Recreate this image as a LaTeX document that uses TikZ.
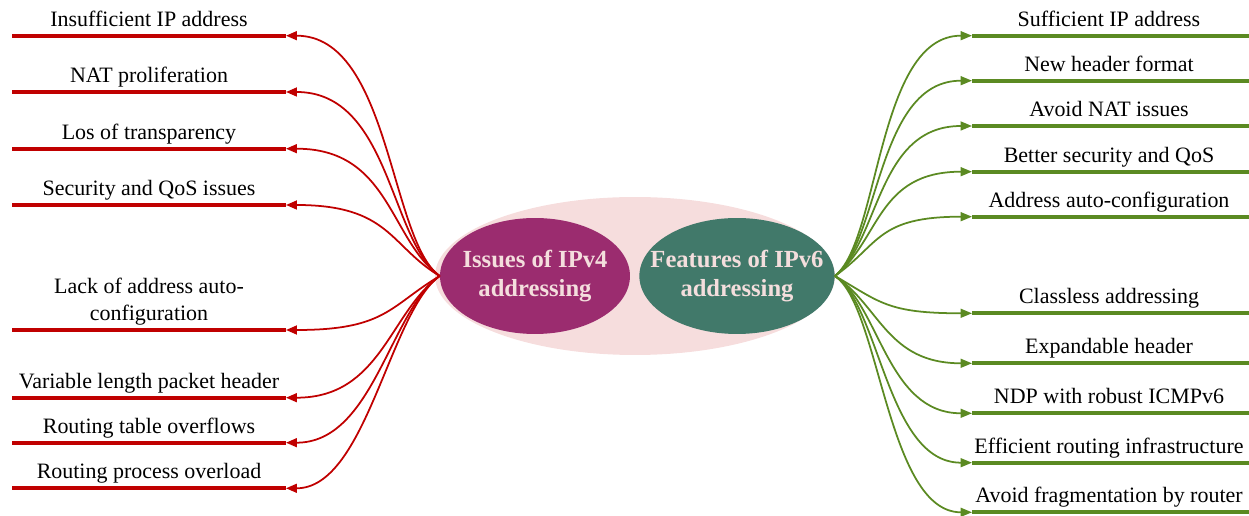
\documentclass[tikz,border=0pt]{standalone}
\usepackage{fontspec}
\setmainfont{Liberation Serif}
\usetikzlibrary{arrows.meta,shapes.geometric}
\definecolor{bad}{HTML}{C00000}
\definecolor{good}{HTML}{5B8A22}
\definecolor{vfourfill}{HTML}{9B2C6F}
\definecolor{vsixfill}{HTML}{41796A}
\definecolor{blush}{HTML}{F6DDDD}
\definecolor{pale}{HTML}{F4DEDD}
\tikzset{
  bar/.style={line width=2.1pt},
  badbar/.style={bar, draw=bad},
  goodbar/.style={bar, draw=good},
  badlink/.style={draw=bad, line width=1pt, -{Triangle[length=0.22cm,width=0.18cm]}},
  goodlink/.style={draw=good, line width=1pt, -{Triangle[length=0.23cm,width=0.18cm]}},
  lab/.style={anchor=south, inner sep=0pt, text depth=0pt, align=center, font=\fontsize{12.5}{15.5}\selectfont},
  hub/.style={ellipse, minimum width=3.8cm, minimum height=2.32cm, inner xsep=-0.35cm, inner ysep=0pt, text=pale, align=center, font=\fontsize{14}{16.5}\selectfont\bfseries},
}

\begin{document}
\begin{tikzpicture}[x=0.02cm, y=-0.02cm]
  \useasboundingbox (0,0) rectangle (1249,516);
  \node[ellipse, fill=blush, minimum width=8cm, minimum height=3.16cm] (halo) at (635,276) {};
  \node[hub, fill=vfourfill] (v4) at (535,276) {Issues of IPv4\\addressing};
  \node[hub, fill=vsixfill] (v6) at (737,276) {Features of IPv6\\addressing};
  % IPv4 issues
  \foreach \y/\dy/\dx/\t [count=\i] in {35.7/-36/104/Insufficient IP address, 92/-36/104/NAT proliferation,
      148.7/-36/104/Los of transparency, 205/-30/104/Security and QoS issues,
      330/30/100/{Lack of address auto-\\configuration}, 397.7/36/95/Variable length packet header,
      442.7/36/87/Routing table overflows, 488.3/36/80/Routing process overload}{
    \coordinate (l\i) at (286,\y);
    \draw[badbar] (12,\y) -- (l\i);
    \node[lab] (lt\i) at (149,\y-9) {\t};
    \draw[badlink] (v4.west) .. controls +(-50,\dy) and +(\dx,0) .. (l\i);
  }
  % IPv6 features
  \foreach \y/\dy/\dx/\t [count=\i] in {35.7/-36/95/Sufficient IP address, 80.7/-36/95/New header format,
      126/-36/95/Avoid NAT issues, 171.7/-36/95/Better security and QoS,
      216.7/-32/95/Address auto-configuration, 313.3/26/85/Classless addressing,
      363.3/30/85/Expandable header, 413.3/30/85/NDP with robust ICMPv6,
      462.7/30/85/Efficient routing infrastructure, 512.3/30/85/Avoid fragmentation by router}{
    \coordinate (r\i) at (972,\y);
    \draw[goodbar] (r\i) -- (1249,\y);
    \node[lab] (rt\i) at (1109,\y-9) {\t};
    \draw[goodlink] (v6.east) .. controls +(45,\dy) and +(-\dx,0) .. (r\i);
  }
\end{tikzpicture}
\end{document}
